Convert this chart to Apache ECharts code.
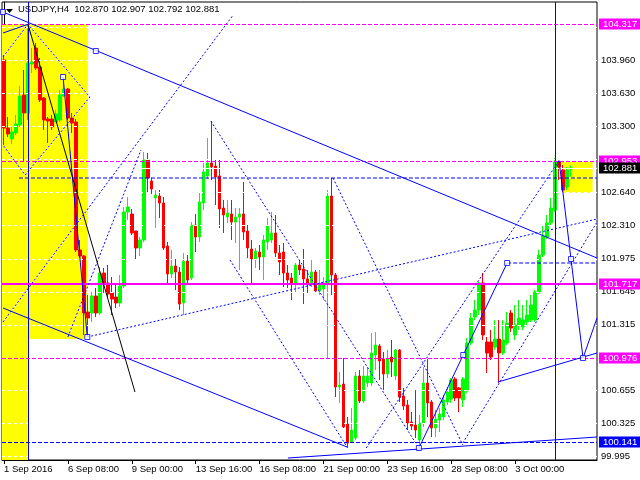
<!DOCTYPE html>
<html><head><meta charset="utf-8">
<script src="https://cdn.jsdelivr.net/npm/echarts@6/dist/echarts.min.js"></script>
<style>html,body{margin:0;padding:0;background:#fff}#c{width:640px;height:480px}</style>
</head><body><div id="c"></div>
<script>
const symbolName = 'USDJPY,H4';
const tickLabels = ['1 Sep 2016','6 Sep 08:00','9 Sep 00:00','13 Sep 16:00','16 Sep 08:00','21 Sep 00:00','23 Sep 16:00','28 Sep 08:00','3 Oct 00:00'];
const priceTicks = [99.995,100.325,100.655,101.315,101.645,101.975,102.310,102.640,103.300,103.630,103.960];
const gridLevels = [99.995,100.325,100.655,100.985,101.315,101.645,101.975,102.310,102.640,102.970,103.300,103.630,103.960,104.290];

const openP = [103.96,103.28,103.17,103.23,103.31,103.61,103.43,103.92,104.08,103.89,103.58,103.37,103.37,103.34,103.36,103.60,103.67,103.38,103.34,102.06,
102.00,101.44,101.43,101.60,101.43,101.83,101.73,101.63,101.59,101.53,101.70,102.44,102.42,102.25,102.08,102.16,102.96,102.75,102.58,102.60,
102.53,102.10,101.82,101.90,101.84,101.53,101.95,101.78,102.31,102.19,102.53,102.80,102.93,102.90,102.80,102.48,102.39,102.42,102.34,102.39,
102.42,102.25,102.07,101.97,102.04,101.99,102.14,102.16,102.23,102.03,102.04,101.83,101.78,101.73,101.91,101.87,101.77,101.73,101.84,101.65,
101.67,101.73,102.60,101.81,100.69,100.72,100.32,100.14,100.18,100.80,100.55,100.73,100.73,101.01,101.10,100.97,100.82,100.99,100.80,101.06,
100.60,100.51,100.34,100.31,100.16,100.33,100.73,100.54,100.28,100.36,100.39,100.54,100.57,100.77,100.68,100.56,100.66,101.13,101.39,101.46,
101.73,101.14,101.14,101.09,101.17,101.03,101.13,101.43,101.21,101.31,101.29,101.34,101.36,101.36,101.64,102.01,102.19,102.33,102.46,102.94,
102.86,102.69,102.870];
const highP = [104.01,103.39,103.29,103.41,103.70,103.86,104.317,104.08,104.13,103.98,103.59,103.39,103.41,103.46,103.66,103.79,103.68,103.43,103.37,102.16,
102.01,101.61,101.64,101.68,101.89,101.88,101.91,101.79,101.71,101.81,102.49,102.59,102.47,102.25,102.19,103.04,103.03,102.78,102.66,102.66,
102.59,102.14,102.06,101.97,101.89,102.03,102.01,102.34,102.42,102.63,102.93,103.18,103.35,102.96,102.96,102.56,102.56,102.56,102.48,102.48,
102.74,102.31,102.16,102.08,102.11,102.21,102.38,102.44,102.41,102.11,102.13,101.91,101.83,101.93,101.96,102.07,101.86,101.96,101.86,101.86,
101.79,102.66,102.78,101.83,100.84,100.98,100.39,100.48,100.84,100.86,100.90,100.89,101.23,101.24,101.12,101.04,101.06,101.16,101.07,101.07,
100.68,100.56,100.44,100.66,100.41,100.89,100.97,100.56,100.46,100.48,100.61,100.69,100.78,100.79,100.69,100.79,101.18,101.43,101.56,101.74,
101.83,101.19,101.26,101.36,101.36,101.36,101.44,101.46,101.51,101.56,101.51,101.56,101.61,101.66,102.06,102.31,102.41,102.58,102.98,102.953,
102.91,102.89,102.907];
const lowP = [103.11,103.19,103.12,103.21,103.29,102.94,103.36,103.83,103.86,103.54,103.26,103.13,103.26,103.34,103.34,103.59,103.36,103.23,102.04,101.98,
101.21,101.19,101.34,101.39,101.41,101.63,101.58,101.41,101.48,101.49,101.68,102.36,102.21,101.96,102.00,102.14,102.63,102.62,102.28,102.38,
102.06,101.71,101.78,101.66,101.46,101.41,101.71,101.76,102.04,102.14,102.46,102.77,102.76,102.51,102.28,102.23,102.33,102.16,102.13,101.86,
102.16,101.98,101.72,101.88,101.86,101.76,102.06,102.13,101.99,101.81,101.69,101.68,101.56,101.64,101.81,101.52,101.63,101.69,101.64,101.61,
101.56,100.97,101.61,100.59,100.53,100.28,100.08,100.13,100.16,100.53,100.53,100.69,100.70,100.86,100.76,100.66,100.78,100.79,100.76,100.54,
100.46,100.26,100.26,100.18,100.08,100.29,100.39,100.19,100.19,100.24,100.36,100.51,100.53,100.55,100.44,100.49,100.63,101.11,101.36,101.41,
101.16,100.83,100.96,101.06,100.73,101.01,101.11,101.24,101.16,101.26,101.26,101.31,101.34,101.34,101.62,101.99,102.17,102.31,102.44,102.76,
102.63,102.66,102.792];
const closeP = [103.28,103.22,103.24,103.32,103.60,103.43,103.93,103.94,103.88,103.56,103.36,103.35,103.29,103.42,103.61,103.67,103.38,103.33,102.06,102.00,
101.43,101.38,101.60,101.43,101.83,101.72,101.62,101.57,101.53,101.70,102.44,102.49,102.23,102.08,102.16,102.96,102.78,102.67,102.61,102.53,
102.08,101.82,101.90,101.84,101.52,101.95,101.76,102.31,102.19,102.54,102.84,102.93,102.89,102.79,102.47,102.41,102.43,102.34,102.39,102.42,
102.24,102.08,101.97,102.05,101.99,102.16,102.30,102.23,102.03,101.94,101.83,101.76,101.72,101.91,101.86,101.77,101.73,101.84,101.65,101.72,
101.73,102.60,101.81,100.69,100.71,100.29,100.13,100.26,100.80,100.55,100.80,100.80,101.03,101.11,100.95,100.82,100.97,100.94,101.06,100.59,
100.50,100.33,100.30,100.26,100.33,100.73,100.53,100.28,100.37,100.42,100.56,100.64,100.76,100.58,100.58,100.77,101.13,101.38,101.46,101.73,
101.21,101.03,100.99,101.17,101.03,101.16,101.33,101.28,101.31,101.38,101.36,101.41,101.51,101.64,102.01,102.20,102.33,102.48,102.94,102.89,
102.66,102.86,102.881];

// horizontal levels
const magentaDashed = [104.317,102.953,100.976];
const magentaSolid = [101.717];
const blueLevel = [100.141];
const bidPrice = 102.881;
const verticalBars = [6,138];
// yellow rectangles [barFrom, priceTop, barTo, priceBottom]
const yellowRects = [[-0.5,104.317,21,101.17],[-0.5,104.317,6,99.96],[139.7,102.94,147.4,102.63]];
// drawn lines in (bar index, price)
const solidLines = [
 [[-0.25,104.44],[148.5,101.98]],
 [[-0.25,104.23],[6,104.317]],
 [[-0.25,101.48],[85.9,100.09]],
 [[71.1,99.98],[148.5,100.19]],
 [[103.9,100.08],[115.0,101.01],[126.0,101.93]],
 [[123.7,100.74],[148.5,101.03]],
 [[139,102.953],[145.0,100.98],[148.5,101.38]],
 [[14.8,103.79],[20.86,101.19]]
];
const blackLines = [[[6,104.317],[32.8,100.64]]];
const dashedSegments = [[[3.75,102.78],[148.5,102.78]],[[126,101.93],[148.5,101.93]]];
const dottedLines = [
 [[20.86,101.19],[148.5,102.37]],
 [[-0.25,103.99],[6,104.317],[21.5,103.59],[5.3,102.81],[-0.25,103.11]],
 [[-0.25,101.34],[57.4,104.41]],
 [[16.0,101.19],[34.3,103.06]],
 [[51.8,103.35],[103.9,100.08]],
 [[56.6,101.96],[85.9,100.09]],
 [[82.4,102.78],[114.9,100.11]],
 [[90.7,100.08],[139,102.953]],
 [[114.9,100.13],[148.5,102.34]]
];
const anchors = [[-0.25,104.44],[23.0,104.05],[14.8,103.79],[20.86,101.19],[103.9,100.08],[115.0,101.01],[126.0,101.93],[142.0,101.97],[145.0,100.98]];

const FONT = '"Liberation Sans", Arial, sans-serif';
const NB = 149;
const cats = Array.from({length: NB}, (_, i) => String(i));
const candles = openP.map((o, i) => [o, closeP[i], lowP[i], highP[i]]);
const BLUE = '#0000ff', MAG = '#ff00ff';
const showTick = (i) => i % 16 === 0 && i / 16 < tickLabels.length;

function lvlLabel(bg, v) {
  return {show: true, position: 'end', distance: 2, formatter: () => v.toFixed(3),
    backgroundColor: bg, color: '#fff', padding: [1, 4, 0, 4], fontSize: 9.5, fontFamily: FONT};
}

const series = [];
series.push({type: 'line', xAxisIndex: 1, data: [], z: 1, silent: true,
  markArea: {silent: true, itemStyle: {color: '#ffff00'},
    data: yellowRects.map(r => [{coord: [r[0], r[1]]}, {coord: [r[2], r[3]]}])}});
series.push({type: 'line', xAxisIndex: 1, data: [], z: 2, silent: true,
  markLine: {silent: true, symbol: 'none', label: {show: false}, animation: false,
    data: gridLevels.map(v => ({yAxis: v, lineStyle: {color: '#fff', type: [3, 3], width: 1}}))
      .concat([{yAxis: bidPrice, lineStyle: {color: '#fff', type: 'solid', width: 1}}])}});
// white under-stroke of dotted objects (gaps show background colour)
dottedLines.forEach(p => series.push({type: 'line', xAxisIndex: 1, data: p, showSymbol: false, silent: true, z: 2,
  lineStyle: {color: '#fff', width: 1}}));
series.push({type: 'candlestick', xAxisIndex: 0, z: 3, barWidth: 3, data: candles,
  itemStyle: {color: '#00ff00', color0: '#ff0000', borderColor: '#00ff00', borderColor0: '#ff0000', borderWidth: 1}});
dottedLines.forEach(p => series.push({type: 'line', xAxisIndex: 1, data: p, showSymbol: false, silent: true, z: 5,
  lineStyle: {color: BLUE, width: 1, type: [2, 2]}}));
dashedSegments.forEach(p => series.push({type: 'line', xAxisIndex: 1, data: p, showSymbol: false, silent: true, z: 5,
  lineStyle: {color: BLUE, width: 1, type: [4, 2]}}));
solidLines.forEach(p => series.push({type: 'line', xAxisIndex: 1, data: p, showSymbol: false, silent: true, z: 6,
  lineStyle: {color: BLUE, width: 1}}));
blackLines.forEach(p => series.push({type: 'line', xAxisIndex: 1, data: p, showSymbol: false, silent: true, z: 6,
  lineStyle: {color: '#000', width: 1}}));
series.push({type: 'line', xAxisIndex: 1, data: [], z: 7, silent: true,
  markLine: {silent: true, symbol: 'none', animation: false,
    data: [].concat(
      verticalBars.map(b => ({xAxis: b, lineStyle: {color: BLUE, type: 'solid', width: 1}, label: {show: false}})),
      magentaSolid.map(v => ({yAxis: v, lineStyle: {color: MAG, type: 'solid', width: 2}, label: lvlLabel(MAG, v)})),
      blueLevel.map(v => ({yAxis: v, lineStyle: {color: BLUE, type: [4, 2], width: 1}, label: lvlLabel(BLUE, v)})),
      magentaDashed.map(v => ({yAxis: v, lineStyle: {color: MAG, type: [4, 2], width: 1}, label: lvlLabel(MAG, v)}))
    )}});
series.push({type: 'scatter', xAxisIndex: 1, data: anchors, symbol: 'rect', symbolSize: 5, silent: true, z: 8,
  itemStyle: {color: '#fff', borderColor: BLUE, borderWidth: 1}});
series.push({type: 'line', xAxisIndex: 1, data: [], z: 9, silent: true,
  markLine: {silent: true, symbol: 'none', animation: false,
    data: [{yAxis: bidPrice, lineStyle: {color: 'rgba(0,0,0,0)', width: 1}, label: lvlLabel('#000', bidPrice)}]}});

const last = openP.length - 1;
const header = symbolName + '  ' + [openP[last], highP[last], lowP[last], closeP[last]].map(v => v.toFixed(3)).join(' ');

const chart = echarts.init(document.getElementById('c'), null, {renderer: 'canvas'});
chart.setOption({
  animation: false,
  backgroundColor: '#fff',
  grid: {left: 2, right: 43, top: 2, bottom: 20, show: true, borderColor: '#000', borderWidth: 1, backgroundColor: '#fff'},
  xAxis: [
    {type: 'category', data: cats, boundaryGap: true,
     axisLine: {show: true, lineStyle: {color: '#000'}},
     axisTick: {show: true, alignWithLabel: true, interval: (i) => showTick(i), length: 4, lineStyle: {color: '#000'}},
     axisLabel: {interval: (i) => showTick(i), formatter: (v, i) => tickLabels[i / 16] || '', align: 'left',
       color: '#000', fontSize: 9.5, fontFamily: FONT, margin: 4},
     splitLine: {show: false}},
    {type: 'value', min: -0.5, max: NB - 0.5, show: false}
  ],
  yAxis: {type: 'value', position: 'right', min: 99.96, max: 104.54,
    axisLine: {show: true, lineStyle: {color: '#000'}},
    axisTick: {show: true, customValues: priceTicks, length: 3, lineStyle: {color: '#000'}},
    axisLabel: {customValues: priceTicks, formatter: v => Number(v).toFixed(3), color: '#000', fontSize: 9.5, fontFamily: FONT, margin: 4},
    splitLine: {show: false}},
  graphic: [
    {type: 'polygon', shape: {points: [[6, 9], [13, 9], [9.5, 13]]}, style: {fill: '#000'}, z: 100},
    {type: 'text', left: 18, top: 4, z: 100, style: {text: header, font: '9.5px "Liberation Sans", Arial, sans-serif', fill: '#000'}}
  ],
  series: series
});
</script></body></html>
